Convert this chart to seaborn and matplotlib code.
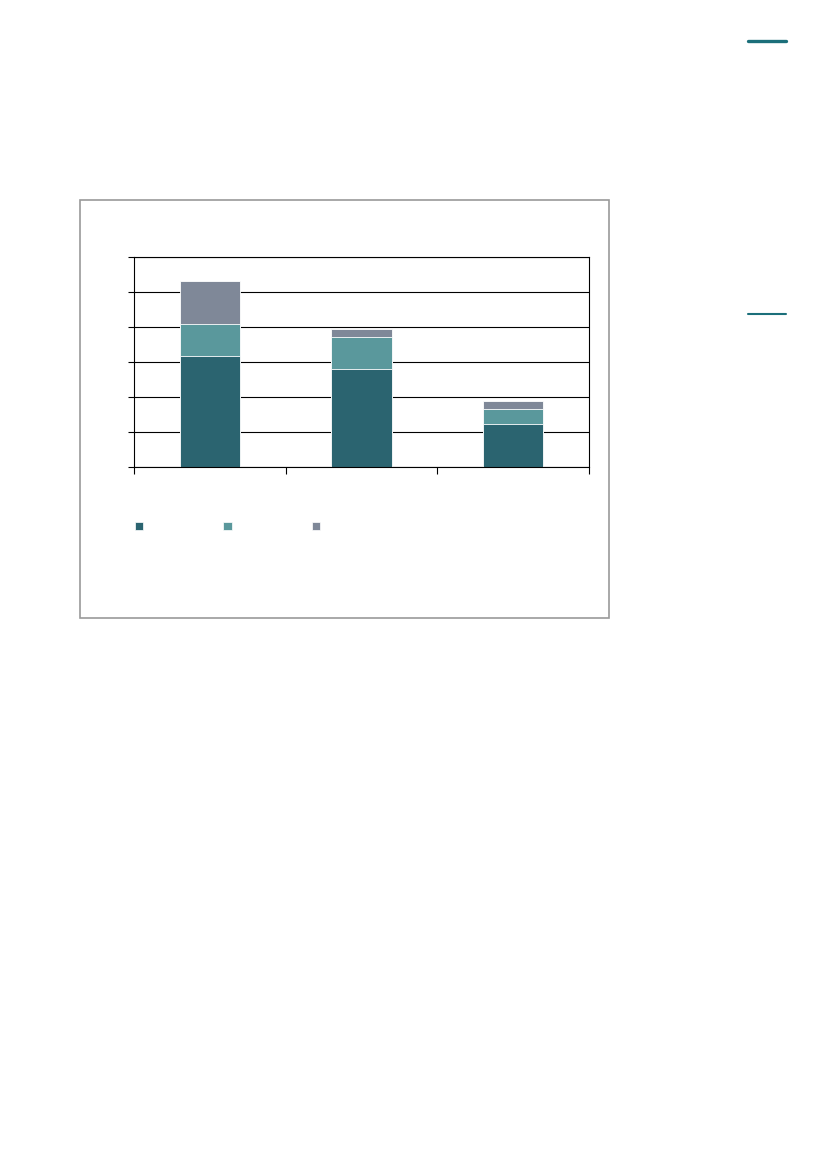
import matplotlib
matplotlib.use("Agg")
import matplotlib.pyplot as plt
import matplotlib.patches as mpatches
from matplotlib.lines import Line2D
import pandas as pd
import seaborn as sns

# values (grid step = 10)
groups = ["A", "B", "C"]
base = [31.8, 28.0, 12.4]
middle = [9.0, 9.1, 4.2]
top = [12.3, 2.4, 2.3]
series_labels = ["", "", ""]

dark = "#2b6470"
teal = "#5a989c"
grey = "#7f8898"

df = pd.DataFrame({"group": groups, "base": base, "middle": middle, "top": top})
df["lvl2"] = df["base"] + df["middle"]
df["lvl3"] = df["lvl2"] + df["top"]

sns.set_style("white")
plt.rcParams["font.family"] = ["DejaVu Sans"]

fig = plt.figure(figsize=(8.27, 11.69), dpi=100)
W, H = 827, 1169

# outer chart frame
fig.add_artist(mpatches.Rectangle((80 / W, 1 - 618 / H), 529 / W, 418 / H,
                                  transform=fig.transFigure, fill=False,
                                  edgecolor="#9a9a9a", linewidth=1.2))

# teal rules at the right margin
fig.add_artist(Line2D([748 / W, 786 / W], [1 - 41 / H, 1 - 41 / H],
                      transform=fig.transFigure, color="#1b6f7a", linewidth=2.4))
fig.add_artist(Line2D([748 / W, 786 / W], [1 - 314 / H, 1 - 314 / H],
                      transform=fig.transFigure, color="#1b6f7a", linewidth=1.5))

ax = fig.add_axes([134 / W, 1 - 467 / H, 455 / W, 210 / H])

for col, c in [("lvl3", grey), ("lvl2", teal), ("base", dark)]:
    sns.barplot(data=df, x="group", y=col, color=c, width=0.4,
                saturation=1, edgecolor="white", linewidth=0.6, ax=ax)

ax.set_ylim(0, 60)
ax.set_xlim(-0.5, 2.5)
ax.set_yticks(range(0, 61, 10))
ax.set_yticklabels([])
ax.set_xticks([-0.5, 0.5, 1.5, 2.5])
ax.set_xticklabels([])
ax.set_xlabel("")
ax.set_ylabel("")
ax.tick_params(axis="y", direction="out", length=4, width=0.8, color="black", left=True)
ax.tick_params(axis="x", direction="out", length=5, width=0.8, color="black", bottom=True)
ax.yaxis.grid(True, color="black", linewidth=0.8)
ax.set_axisbelow(True)
for s in ax.spines.values():
    s.set_color("black")
    s.set_linewidth(0.8)
    s.set_visible(True)

handles = [mpatches.Patch(facecolor=c, edgecolor="white", linewidth=0.5)
           for c in (dark, teal, grey)]
fig.legend(handles, series_labels, ncol=3, loc="center left",
           bbox_to_anchor=(135 / W, 1 - 527 / H), frameon=False,
           fontsize=8, handlelength=0.75, handleheight=0.75,
           handletextpad=0, columnspacing=7.2, borderpad=0, borderaxespad=0)

fig.savefig("out.png", dpi=100)
